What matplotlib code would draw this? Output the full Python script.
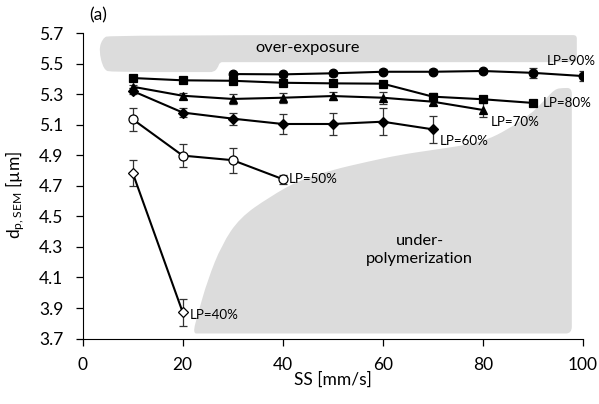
import numpy as np
import matplotlib
matplotlib.use("Agg")
import matplotlib.pyplot as plt
from matplotlib.patches import PathPatch
from matplotlib.path import Path

plt.rcParams['font.family'] = ['Lato', 'DejaVu Sans']
plt.rcParams['mathtext.default'] = 'regular'

# scan speed [mm/s] and particle size [um] per laser power
ss_90 = [30, 40, 50, 60, 70, 80, 90, 100]
dp_90 = [5.432, 5.430, 5.437, 5.447, 5.447, 5.452, 5.440, 5.419]
err_90 = [0.015, 0.015, 0.015, 0.015, 0.015, 0.015, 0.033, 0.030]

ss_80 = [10, 20, 30, 40, 50, 60, 70, 80, 90]
dp_80 = [5.406, 5.391, 5.388, 5.375, 5.371, 5.369, 5.284, 5.267, 5.243]
err_80 = [0.015, 0.01, 0.015, 0.015, 0.015, 0.015, 0.025, 0.01, 0.01]

ss_70 = [10, 20, 30, 40, 50, 60, 70, 80]
dp_70 = [5.349, 5.290, 5.269, 5.277, 5.288, 5.277, 5.251, 5.197]
err_70 = [0.01, 0.02, 0.034, 0.033, 0.025, 0.04, 0.02, 0.047]

ss_60 = [10, 20, 30, 40, 50, 60, 70]
dp_60 = [5.321, 5.180, 5.140, 5.105, 5.105, 5.120, 5.070]
err_60 = [0.02, 0.03, 0.04, 0.063, 0.07, 0.087, 0.09]

ss_50 = [10, 20, 30, 40]
dp_50 = [5.136, 4.898, 4.868, 4.744]
err_50 = [0.076, 0.077, 0.083, 0.03]

ss_40 = [10, 20]
dp_40 = [4.785, 3.872]
err_40 = [0.085, 0.09]

# outlines of the grey regions (control polygons, data coordinates)
over_x = [5.4, 97.4, 98.8, 98.8, 98.8, 98.8, 97.4, 28.4, 27.4, 27.0, 26.2,
          24.8, 5.8, 4.2, 3.2, 4.0]
over_y = [5.687, 5.687, 5.687, 5.641, 5.556, 5.510, 5.510, 5.510, 5.510, 5.471,
          5.445, 5.445, 5.445, 5.458, 5.589, 5.667]

under_x = [23.4, 95.4, 97.8, 97.8, 97.8, 97.8, 96.0, 94.4, 92.4, 89.4, 84.8,
           80.8, 76.8, 70.0, 63.4, 56.8, 50.0, 43.4, 37.4, 31.4, 27.8, 25.0,
           23.0, 22.0]
under_y = [3.733, 3.733, 3.733, 3.824, 5.262, 5.341, 5.341, 5.334, 5.262, 5.164,
           5.066, 5.001, 4.968, 4.935, 4.903, 4.857, 4.805, 4.739, 4.628, 4.491,
           4.314, 4.085, 3.857, 3.733]


def smooth_region(xs, ys):
    # closed quadratic-bezier outline through the edge midpoints
    pts = np.column_stack([xs, ys])
    mids = (pts + np.roll(pts, -1, axis=0)) / 2
    verts = [mids[-1]]
    codes = [Path.MOVETO]
    for i in range(len(pts)):
        verts += [pts[i], mids[i]]
        codes += [Path.CURVE3, Path.CURVE3]
    verts.append(mids[-1])
    codes.append(Path.CLOSEPOLY)
    return Path(verts, codes)


fig = plt.figure(figsize=(5.99, 4.04), dpi=100)
ax = fig.add_axes([0.138, 0.162, 0.835, 0.756])

grey = '#dcdcdc'
for xs, ys in [(over_x, over_y), (under_x, under_y)]:
    ax.add_patch(PathPatch(smooth_region(xs, ys), facecolor=grey,
                           edgecolor='none', zorder=0, clip_on=False))

series = [
    (ss_90, dp_90, err_90, 'o', 'black', 6.2),
    (ss_80, dp_80, err_80, 's', 'black', 5.6),
    (ss_70, dp_70, err_70, '^', 'black', 6.2),
    (ss_60, dp_60, err_60, 'D', 'black', 4.8),
    (ss_50, dp_50, err_50, 'o', 'white', 6.5),
    (ss_40, dp_40, err_40, 'D', 'white', 4.8),
]
for x, y, e, m, fc, ms in series:
    ax.errorbar(x, y, yerr=e, fmt='none', ecolor='#333333', elinewidth=0.9,
                capsize=2.8, capthick=0.9, zorder=2)
    ax.plot(x, y, color='black', lw=1.5, marker=m, markersize=ms,
            markerfacecolor=fc, markeredgecolor='black', markeredgewidth=0.9,
            zorder=3)

lp_fs = 9.6
ax.text(92.8, 5.517, 'LP=90%', fontsize=lp_fs, va='center', clip_on=False)
ax.text(92.0, 5.242, 'LP=80%', fontsize=lp_fs, va='center', clip_on=False)
ax.text(81.6, 5.118, 'LP=70%', fontsize=lp_fs, va='center')
ax.text(71.4, 4.994, 'LP=60%', fontsize=lp_fs, va='center')
ax.text(41.3, 4.746, 'LP=50%', fontsize=lp_fs, va='center')
ax.text(21.4, 3.857, 'LP=40%', fontsize=lp_fs, va='center')
ax.text(45, 5.6, 'over-exposure', fontsize=11.8, ha='center', va='center')
ax.text(67.4, 4.28, 'under-\npolymerization', fontsize=11.8, ha='center',
        va='center', linespacing=1.3)
ax.text(1.4, 5.818, '(a)', fontsize=12.5, va='center', clip_on=False)

ax.set_xlim(0, 100)
ax.set_ylim(3.7, 5.7)
ax.set_xticks([0, 20, 40, 60, 80, 100])
yt = np.round(np.arange(3.7, 5.71, 0.2), 1)
ax.set_yticks(yt)
ax.set_yticklabels([f'{v:.1f}' for v in yt])
ax.tick_params(axis='both', labelsize=12.5, direction='out', length=5,
               width=0.9)
ax.tick_params(axis='y', pad=9)
ax.tick_params(axis='x', pad=8)
for s in ['top', 'right']:
    ax.spines[s].set_visible(False)
ax.set_xlabel('SS [mm/s]', fontsize=12.5)
ax.xaxis.set_label_coords(0.5, -0.108)
ax.set_ylabel(r'd$_{p,SEM}$ [µm]', fontsize=12.5)
ax.yaxis.set_label_coords(-0.112, 0.47)

fig.savefig('out.png', dpi=100)
